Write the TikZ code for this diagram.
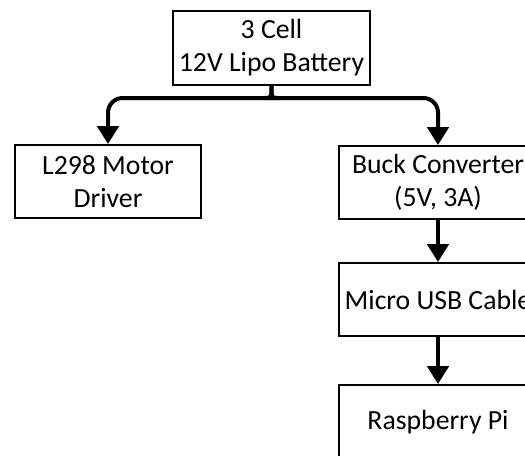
\documentclass[tikz,border=0pt]{standalone}
\usepackage{fontspec}
\setmainfont{Carlito}
\usetikzlibrary{arrows.meta}
\begin{document}
\begin{tikzpicture}[x=0.75pt,y=-0.75pt,
  box/.style={draw=black,line width=1.5pt,fill=white,inner sep=0pt,align=center,
    font=\fontsize{20.8}{24.75}\selectfont,minimum height=55pt},
  conn/.style={line width=3pt,-{Triangle[width=16pt,length=13.5pt]}}]
\useasboundingbox (0,0) rectangle (525,455);
\fill[white] (0,0) rectangle (525,455);
\clip (0,0) rectangle (525,455);
\node[box,minimum width=147.75pt,minimum height=55.5pt] (bat) at (271.5,48) {3 Cell\\12V Lipo Battery};
\node[box,minimum width=139.5pt,minimum height=54.75pt] (l298) at (108,181.5) {L298 Motor\\Driver};
\node[box,minimum width=148.5pt,minimum height=54.75pt] (bk) at (438,182.5) {Buck Converter\\(5V, 3A)};
\node[box,minimum width=148.5pt,minimum height=54.75pt] (usb) at (438,299.5) {Micro USB Cable};
\node[box,minimum width=148.5pt,minimum height=55.5pt] (pi) at (438,422) {Raspberry Pi};
\draw[conn,rounded corners=11pt] (bat.south) .. controls +(0,12) .. +(7,12) -| (bk.north);
\draw[conn,rounded corners=11pt] (bat.south) .. controls +(0,12) .. +(-7,12) -| (l298.north);
\draw[conn] (bk) -- (usb);
\draw[conn] (usb) -- (pi);
\end{tikzpicture}
\end{document}
